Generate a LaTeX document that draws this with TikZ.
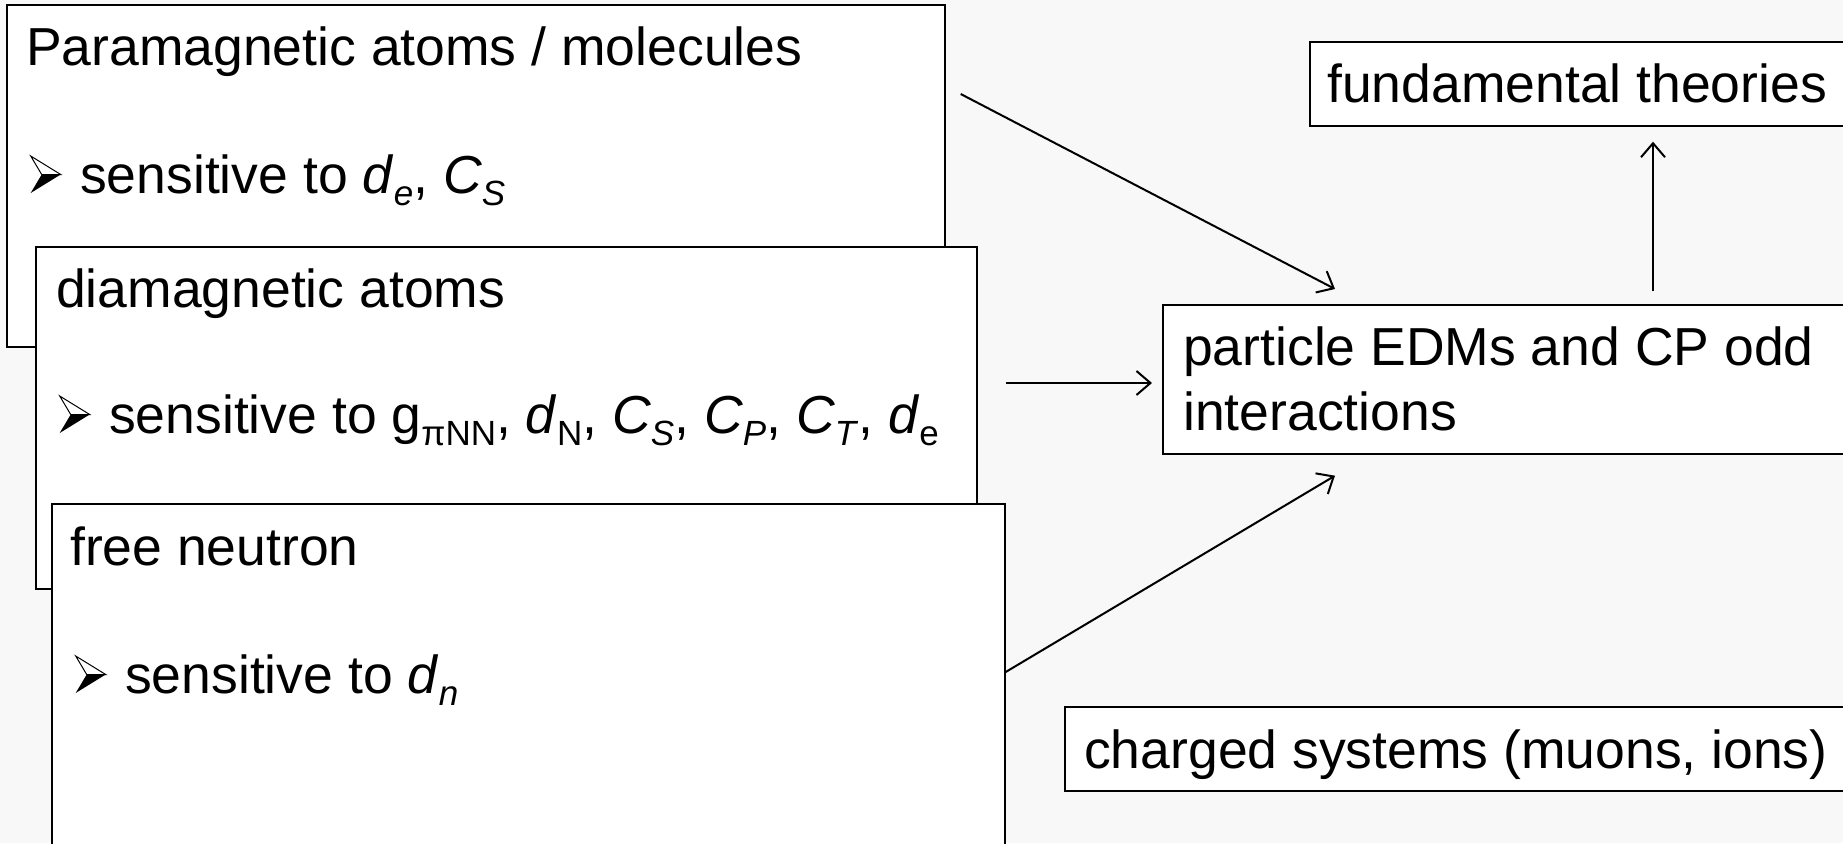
\documentclass[tikz,border=0pt]{standalone}
\usepackage{fontspec}
\setmainfont{Liberation Sans}
\usetikzlibrary{arrows.meta,calc}
\definecolor{bg}{HTML}{F8F8F8}
\newcommand\arrbul{\tikz[baseline=0pt,x=1pt,y=1pt,line width=1pt]{\filldraw[fill=white,draw=black,line join=miter] (0,37)--(30,18.5)--(11,18.5)--cycle; \fill[black] (0,0)--(11,18.5)--(30,18.5)--cycle;}}
\newcommand\lsub[1]{\raisebox{-0.24em}{\fontsize{35}{35}\selectfont #1}}
\tikzset{
  box/.style={draw=black, fill=white, line width=1.7pt, anchor=north west, inner sep=0pt},
  txt/.style={anchor=base west, inner sep=0pt, font=\fontsize{53.5}{64}\selectfont},
  arr/.style={-{Straight Barb[length=14pt,width=24pt,line width=2pt]}, line width=2pt}
}
\begin{document}
\begin{tikzpicture}[x=1pt,y=-1pt]
\fill[bg] (0,0) rectangle (1843,843);
\useasboundingbox (0,0) rectangle (1843,843);
\clip (0,0) rectangle (1843,843);
% left stack
\node[box, minimum width=938pt, minimum height=342pt] (box1) at (6,4) {};
\node[txt] (t1a) at (26,65) {Paramagnetic atoms / molecules};
\node[txt] (t1b) at (30,193) {\arrbul\hspace{19pt}sensitive to \textit{d}\lsub{\textit{e}}, \textit{C}\lsub{\textit{S}}};
\node[box, minimum width=941pt, minimum height=342pt] (box2) at (35,246) {};
\node[txt] (t2a) at (56,307) {diamagnetic atoms};
\node[txt] (t2b) at (59,433) {\arrbul\hspace{19pt}sensitive to g\lsub{πNN}, \textit{d}\lsub{N}, \textit{C}\lsub{\textit{S}}, \textit{C}\lsub{\textit{P}}, \textit{C}\lsub{\textit{T}}, \textit{d}\lsub{e}};
\node[box, minimum width=953pt, minimum height=420pt] (box3) at (51,503) {};
\node[txt] (t3a) at (70,565) {free neutron};
\node[txt] (t3b) at (75,693) {\arrbul\hspace{19pt}sensitive to \textit{d}\lsub{\textit{n}}};
% right side
\node[box, minimum width=600pt, minimum height=84pt] (fund) at (1309,41) {};
\node[txt] (tf) at (1327,102) {fundamental theories};
\node[box, minimum width=720pt, minimum height=149pt] (part) at (1162,304) {};
\node[txt] (tp1) at (1183,365) {particle EDMs and CP odd};
\node[txt] (tp2) at (1183,430) {interactions};
\node[box, minimum width=820pt, minimum height=84pt] (chg) at (1064,706) {};
\node[txt] (tc) at (1084,768) {charged systems (muons, ions)};
% connectors
\coordinate (a1s) at ($(box1.north east)+(15,90)$);
\coordinate (a1e) at ($(part.north west)+(173,-15)$);
\coordinate (a2s) at ($(box2.north east)+(28,137)$);
\coordinate (a2e) at ($(a2s -| part.west)+(-10,0)$);
\coordinate (a3s) at ($(box3.north east)+(0,169)$);
\coordinate (a3e) at ($(part.south west)+(173,21)$);
\coordinate (a4s) at ($(part.north west)+(491,-13)$);
\coordinate (a4e) at ($(a4s |- fund.south)+(0,15)$);
\draw[arr] (a1s) -- (a1e);
\draw[arr] (a2s) -- (a2e);
\draw[arr] (a3s) -- (a3e);
\draw[arr] (a4s) -- (a4e);
\end{tikzpicture}
\end{document}
